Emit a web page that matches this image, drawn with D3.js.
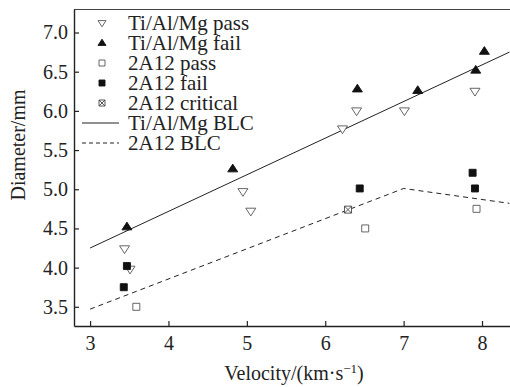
<!DOCTYPE html>
<html>
<head>
<meta charset="utf-8">
<script src="https://cdn.jsdelivr.net/npm/d3@7"></script>
<style>
  body { margin: 0; background: #fff; }
</style>
</head>
<body>
<svg width="510" height="387"></svg>
<script>
// velocity (km/s), diameter (mm)
var tiPass = [[3.44, 4.24], [3.51, 3.98], [4.95, 4.97], [5.05, 4.72], [6.22, 5.77],
              [6.40, 6.00], [7.01, 6.00], [7.91, 6.25]];
var tiFail = [[3.47, 4.52], [4.82, 5.26], [6.41, 6.28], [7.18, 6.26], [7.92, 6.52], [8.03, 6.76]];
var alPass = [[3.59, 3.50], [6.51, 4.50], [7.93, 4.75]];
var alFail = [[3.43, 3.75], [3.47, 4.02], [6.44, 5.01], [7.91, 5.01], [7.88, 5.21]];
var alCritical = [[6.29, 4.74]];
var tiBLC = [[3, 4.25], [8.35, 6.75]];
var alBLC = [[3, 3.47], [7, 5.01], [8.35, 4.82]];

var xTicks = [3, 4, 5, 6, 7, 8];
var yTicks = [3.5, 4.0, 4.5, 5.0, 5.5, 6.0, 6.5, 7.0];
var legendLabels = ["Ti/Al/Mg pass", "Ti/Al/Mg fail", "2A12 pass", "2A12 fail",
                    "2A12 critical", "Ti/Al/Mg BLC", "2A12 BLC"];

var serif = "'Liberation Serif', 'Times New Roman', 'DejaVu Serif', serif";
var svg = d3.select("svg").attr("font-family", serif),
    mLeft = 74, mRight = 510, mTop = 9, mBottom = 326;

var x = d3.scaleLinear().domain([2.795, 8.357]).range([mLeft, mRight]);
var y = d3.scaleLinear().domain([3.255, 7.3]).range([mBottom, mTop]);

var line = d3.line().x(d => x(d[0])).y(d => y(d[1]));
var ink = "#222";

// frame: top line
svg.append("line")
    .attr("x1", mLeft).attr("x2", mRight).attr("y1", mTop + 0.5).attr("y2", mTop + 0.5)
    .attr("stroke", "#444").attr("stroke-width", 1.2);

var xAxis = svg.append("g")
    .attr("transform", "translate(0," + mBottom + ")")
    .call(d3.axisBottom(x).tickValues(xTicks).tickFormat(d3.format("d"))
      .tickSizeInner(-5).tickSizeOuter(0).tickPadding(11));

var yAxis = svg.append("g")
    .attr("transform", "translate(" + mLeft + ",0)")
    .call(d3.axisLeft(y).tickValues(yTicks).tickFormat(d3.format(".1f"))
      .tickSizeInner(-5).tickSizeOuter(0).tickPadding(6));

[xAxis, yAxis].forEach(function(a) {
  a.attr("font-family", serif).attr("font-size", 20);
  a.selectAll("text").attr("fill", ink);
});
xAxis.selectAll("text").attr("y", 0).attr("dy", 24);

svg.selectAll(".domain").attr("stroke", ink).attr("stroke-width", 1.4);
svg.selectAll(".tick line").attr("stroke", ink).attr("stroke-width", 1.2);

svg.append("text")
    .attr("x", 294).attr("y", 380)
    .attr("text-anchor", "middle").attr("font-size", 20).attr("fill", ink)
    .html('Velocity/(km·s<tspan dy="-7" font-size="13">−1</tspan><tspan dy="7">)</tspan>');

svg.append("text")
    .attr("transform", "translate(25,145) rotate(-90)")
    .attr("text-anchor", "middle").attr("font-size", 20).attr("fill", ink)
    .text("Diameter/mm");

// BLC lines
svg.append("path").attr("d", line(tiBLC))
    .attr("fill", "none").attr("stroke", ink).attr("stroke-width", 1);
svg.append("path").attr("d", line(alBLC))
    .attr("fill", "none").attr("stroke", ink).attr("stroke-width", 1)
    .attr("stroke-dasharray", "5,4");

function triDown(s) { return "M" + (-s) + "," + (-s * 0.6) + "L" + s + "," + (-s * 0.6) + "L0," + (s * 0.95) + "Z"; }
function triUp(s) { return "M" + (-s) + "," + (s * 0.6) + "L" + s + "," + (s * 0.6) + "L0," + (-s * 0.95) + "Z"; }
function square(s) { return "M" + (-s) + "," + (-s) + "h" + (2 * s) + "v" + (2 * s) + "h" + (-2 * s) + "Z"; }
function crossed(s) { return square(s) + "M" + (-s) + "," + (-s) + "L" + s + "," + s + "M" + s + "," + (-s) + "L" + (-s) + "," + s; }

var kinds = [
  {data: tiPass, d: triDown(5), fill: "#fff", stroke: "#555", ld: triDown(4)},
  {data: tiFail, d: triUp(5), fill: "#111", stroke: "#111", ld: triUp(4)},
  {data: alPass, d: square(3.5), fill: "#fff", stroke: "#555", ld: square(3)},
  {data: alFail, d: square(3.5), fill: "#111", stroke: "#111", ld: square(3)},
  {data: alCritical, d: crossed(3.5), fill: "#fff", stroke: "#444", ld: crossed(3)}
];

kinds.forEach(function(k) {
  svg.append("g").selectAll("path")
    .data(k.data)
    .enter().append("path")
      .attr("transform", d => "translate(" + x(d[0]) + "," + y(d[1]) + ")")
      .attr("d", k.d)
      .attr("fill", k.fill)
      .attr("stroke", k.stroke)
      .attr("stroke-width", 0.9);
});

// legend
var lg = svg.append("g");
legendLabels.forEach(function(name, i) {
  var cy = 23 + i * 20;
  if (i < 5) {
    lg.append("path")
      .attr("transform", "translate(102," + cy + ")")
      .attr("d", kinds[i].ld)
      .attr("fill", kinds[i].fill).attr("stroke", kinds[i].stroke).attr("stroke-width", 0.9);
  } else {
    lg.append("line")
      .attr("x1", 82).attr("x2", 119).attr("y1", cy).attr("y2", cy)
      .attr("stroke", ink).attr("stroke-width", 1)
      .attr("stroke-dasharray", i == 6 ? "4,3" : null);
  }
  lg.append("text")
    .attr("x", 128).attr("y", cy + 6.5)
    .attr("font-size", 21).attr("fill", ink)
    .text(name);
});
</script>
</body>
</html>
